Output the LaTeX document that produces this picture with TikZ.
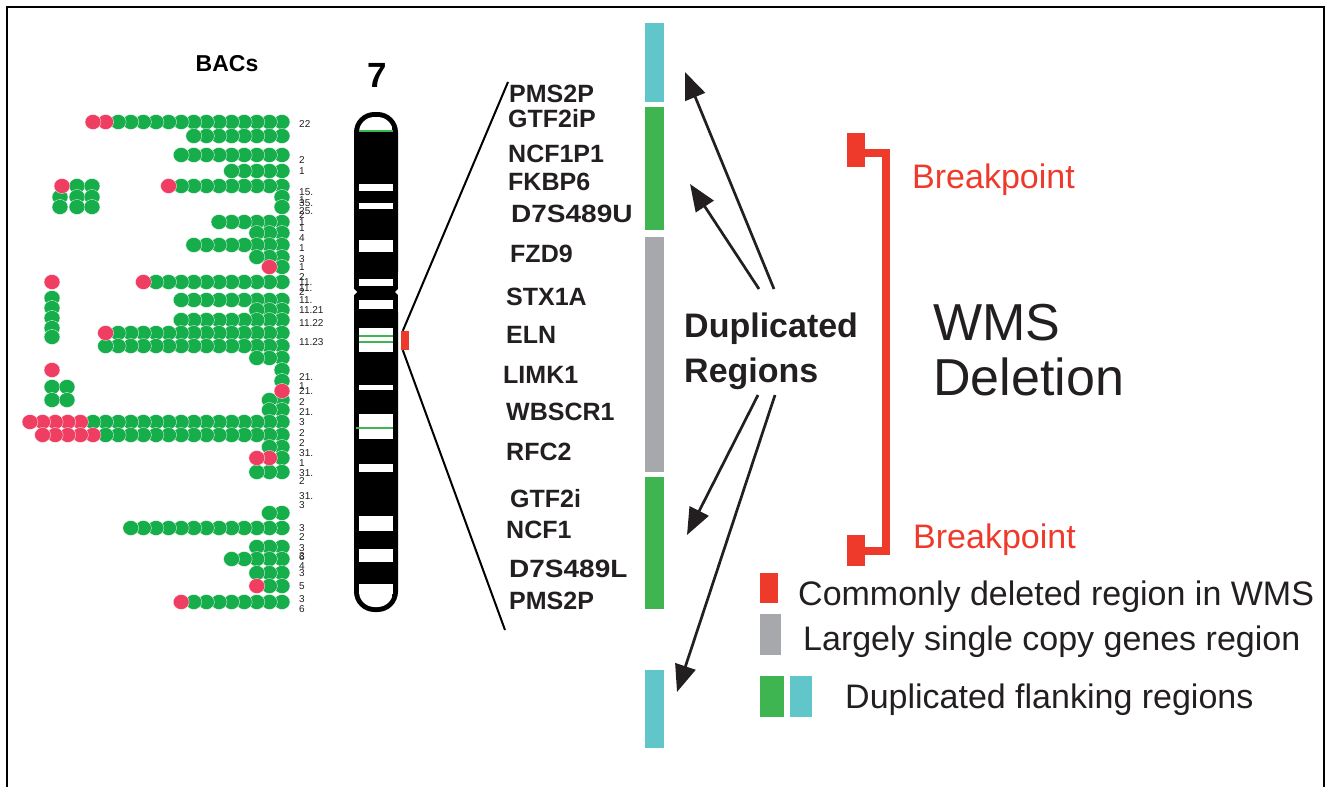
\documentclass[tikz,border=0pt]{standalone}
\usepackage{fontspec}
\setmainfont{Liberation Sans}
\usetikzlibrary{arrows.meta}

\definecolor{bacgreen}{RGB}{22,173,75}
\definecolor{bacred}{RGB}{240,62,98}
\definecolor{dupcyan}{RGB}{97,198,201}
\definecolor{dupgreen}{RGB}{63,181,82}
\definecolor{singlegray}{RGB}{167,168,172}
\definecolor{delred}{RGB}{238,58,43}
\definecolor{ink}{RGB}{35,31,32}

\begin{document}
\begin{tikzpicture}[x=1pt,y=-1pt]
\tikzstyle{every node}=[inner sep=0pt,text=ink]
\tikzstyle{gene}=[anchor=base west,font=\fontsize{25}{30}\selectfont\bfseries]
\tikzstyle{band}=[anchor=west,font=\fontsize{10}{12}\selectfont]
\tikzstyle{legend}=[anchor=base west,font=\fontsize{34}{40}\selectfont]
\tikzstyle{breakpoint}=[anchor=base west,text=delred,font=\fontsize{34}{40}\selectfont]
\tikzstyle{wms}=[anchor=base west,font=\fontsize{52}{60}\selectfont]
\tikzstyle{dup}=[anchor=base west,font=\fontsize{34}{40}\selectfont\bfseries]
\tikzstyle{dot}=[draw=white,line width=0.3pt]
\tikzstyle{dup arrow}=[draw=ink,line width=2.7pt,-{Triangle[length=27pt,width=21pt]}]
\tikzstyle{chromo}=[draw=black,line width=5pt,fill=black]
\tikzstyle{marker}=[draw=dupgreen,line width=2.5pt]
\tikzstyle{bracket}=[draw=delred,line width=8pt]

\useasboundingbox (0,0) rectangle (1328,787);
\draw[line width=2pt] (7,787) -- (7,7) -- (1324,7) -- (1324,787);

\node[anchor=base,text=black,font=\fontsize{23}{28}\selectfont\bfseries] (bacs) at (227,71) {BACs};
\foreach \y/\n in {122/14,136/8,155/9,171/5,186/9,197/1,207/1,222/6,233/3,245/8,257/3,267/1,
  282/11,300/9,310/3,320/9,333/14,346/15,358/3,370/1,381/1,400/2,410/2,422/16,435/15,447/2,
  458/1,472/3,513/2,528/13,547/3,559/5,573/3,586/2,602/8}
  \foreach \i in {1,...,\n}
    \filldraw[dot,fill=bacgreen] ({282-12.6*(\i-1)},\y) ellipse [x radius=8pt,y radius=7.5pt];
\foreach \x/\y in {77/186,92/186,60/197,77/197,92/197,60/207,77/207,92/207,52/298,52/308,
  52/318,52/328,52/337,52/387,67/387,52/400,67/400}
  \filldraw[dot,fill=bacgreen] (\x,\y) ellipse [x radius=8pt,y radius=7.5pt];
\foreach \y/\k in {122/14,122/15,186/9,267/1,282/11,333/14,391/0,422/16,422/17,422/18,422/19,
  422/20,435/15,435/16,435/17,435/18,435/19,458/1,458/2,586/2,602/8}
  \filldraw[dot,fill=bacred] ({282-12.6*\k},\y) ellipse [x radius=8pt,y radius=7.5pt];
\foreach \x/\y in {62/186,52/282,52/370}
  \filldraw[dot,fill=bacred] (\x,\y) ellipse [x radius=8pt,y radius=7.5pt];
\foreach \y/\t in {124/22,160/2,171/1,192/15.,200/1,203/35.,211/25.,215/2,222/1,228/1,238/4,
  248/1,259/3,267/1,277/2,282/11.,288/11.,292/2,300/11.,310/11.21,323/11.22,342/11.23,
  377/21.,386/1,391/21.,402/2,412/21.,422/3,433/2,443/2,453/31.,463/1,473/31.,481/2,496/31.,
  505/3,528/3,537/2,548/3,556/3,557/6,566/4,573/3,586/5,599/3,609/6}
  \node[band] at (299,\y) {\t};

\node[anchor=base,text=black,font=\fontsize{35}{40}\selectfont\bfseries] (chr) at (377,87) {7};
\draw[chromo,rounded corners=18pt] (356.5,114.5) rectangle (395.5,290);
\draw[chromo] (356.5,200) rectangle (395.5,290);
\draw[chromo,rounded corners=18pt] (356.5,294) rectangle (395.5,609.5);
\draw[chromo] (356.5,294) rectangle (395.5,400);
\fill[white] (353.5,288.5) -- (357,292) -- (353.5,295.5) -- cycle;
\fill[white] (398.5,288.5) -- (395,292) -- (398.5,295.5) -- cycle;
\begin{scope}
\clip[rounded corners=15.5pt] (359,117) rectangle (393,607);
\fill[white] (359,110) rectangle (393,130);
\fill[white] (359,584) rectangle (393,612);
\foreach \a/\b in {184/191,203/209,240/252,279/286,300/309,328/352,385/390,414/439,464/472,
  516/531,549/562}
  \fill[white] (359,\a) rectangle (393,\b);
\end{scope}
\draw[marker] (359,131) -- (393,131);
\draw[marker] (359,336) -- (393,336);
\draw[marker] (359,342) -- (393,342);
\draw[marker] (356,428) -- (393,428);
\node[fill=delred,minimum width=8pt,minimum height=19pt] (del) at (405,340.5) {};

\coordinate (zoomTop) at (508,82);
\coordinate (zoomBot) at (505,630);
\draw[line width=2pt] ([xshift=2pt]del.north west) -- (zoomTop);
\draw[line width=2pt] ([xshift=2pt]del.south west) -- (zoomBot);

\node[gene] (pmsTop) at (509,102) {PMS2P};
\node[gene] (gtfiP) at (508,127) {GTF2iP};
\node[gene] (ncfPone) at (508,162) {NCF1P1};
\node[gene] (fkbp) at (508,190) {FKBP6};
\node[gene] (dsU) at (511,222) {\scalebox{1.12}[1]{D7S489U}};
\node[gene] (fzd) at (510,262) {FZD9};
\node[gene] (stx) at (506,305) {STX1A};
\node[gene] (eln) at (506,343) {ELN};
\node[gene] (limk) at (503,383) {LIMK1};
\node[gene] (wbscr) at (506,420) {WBSCR1};
\node[gene] (rfc) at (506,460) {RFC2};
\node[gene] (gtfi) at (510,507) {GTF2i};
\node[gene] (ncf) at (506,538) {NCF1};
\node[gene] (dsL) at (509,577) {\scalebox{1.12}[1]{D7S489L}};
\node[gene] (pmsBot) at (509,609) {PMS2P};

\fill[dupcyan] (645,23) rectangle (664,102);
\fill[dupgreen] (645,107) rectangle (664,230);
\fill[singlegray] (645,237) rectangle (664,472);
\fill[dupgreen] (645,477) rectangle (664,609);
\fill[dupcyan] (645,670) rectangle (664,748);

\node[dup] (dupA) at (684,337) {Duplicated};
\node[dup] (dupB) at (684,382) {Regions};
\coordinate (upA) at (774,289);
\coordinate (upB) at (759,289);
\coordinate (downA) at (758,395);
\coordinate (downB) at (775,395);
\coordinate (cyanTop) at (685,72);
\coordinate (greenTop) at (690,184);
\coordinate (greenBot) at (687,535);
\coordinate (cyanBot) at (677,692);
\draw[dup arrow] (upA) -- (cyanTop);
\draw[dup arrow] (upB) -- (greenTop);
\draw[dup arrow] (downA) -- (greenBot);
\draw[dup arrow] (downB) -- (cyanBot);

\node[fill=delred,minimum width=18pt,minimum height=34pt] (bpTop) at (856,150) {};
\node[fill=delred,minimum width=18pt,minimum height=31pt] (bpBot) at (856,550.5) {};
\draw[bracket] ([yshift=-3pt]bpTop.east) -- ++(21,0) |- (bpBot.east);
\node[breakpoint] (bpTopText) at (912,188) {Breakpoint};
\node[breakpoint] (bpBotText) at (913,548) {Breakpoint};
\node[wms] (wmsA) at (933,340) {WMS};
\node[wms] (wmsB) at (933,395) {Deletion};

\node[fill=delred,minimum width=18pt,minimum height=30pt] (keyRed) at (769,588) {};
\node[fill=singlegray,minimum width=21pt,minimum height=41pt] (keyGray) at (770.5,634.5) {};
\node[fill=dupgreen,minimum width=24pt,minimum height=41pt] (keyGreen) at (772,696.5) {};
\node[fill=dupcyan,minimum width=22pt,minimum height=41pt] (keyCyan) at (801,696.5) {};
\node[legend] (keyRedText) at (798,605) {Commonly deleted region in WMS};
\node[legend] (keyGrayText) at (803,650) {Largely single copy genes region};
\node[legend] (keyDupText) at (845,708) {Duplicated flanking regions};
\end{tikzpicture}
\end{document}
